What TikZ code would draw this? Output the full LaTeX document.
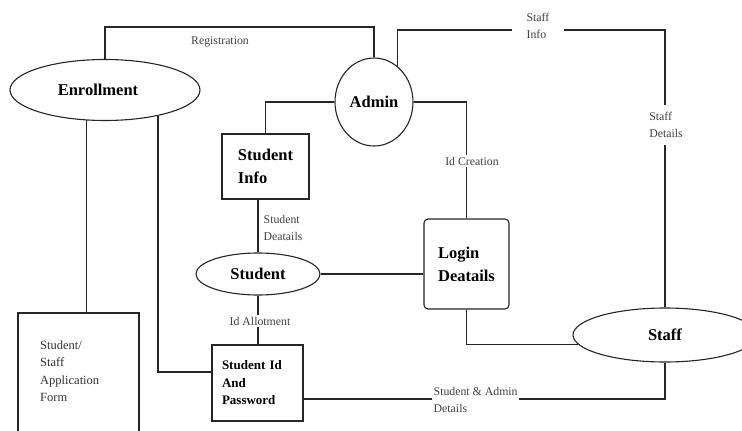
\documentclass[tikz,border=0pt]{standalone}
\usepackage{fontspec}
\setmainfont{Liberation Serif}
\usetikzlibrary{shapes.geometric}
\begin{document}
\begin{tikzpicture}[x=1pt,y=-1pt,
  conn/.style={draw=black!85, line width=1.1pt},
  ell/.style={ellipse, draw=black!85, line width=1.1pt, inner sep=2pt, font=\bfseries\fontsize{16.5}{23}\selectfont},
  boxnode/.style={rectangle, draw=black!85, line width=1.1pt, inner sep=2pt, align=left, font=\bfseries\fontsize{16.5}{23}\selectfont},
  lbl/.style={font=\fontsize{11.8}{16.5}\selectfont, text=black!75, align=left, inner sep=1.5pt},
  lblw/.style={lbl, fill=white}
]
\clip (0,0) rectangle (742,431);
\fill[white] (0,0) rectangle (742,431);

% nodes
\node[ell, minimum width=190pt, minimum height=61pt] (enr) at (105,90) {Enrollment\kern14pt};
\node[ell, minimum width=78pt, minimum height=88pt] (admin) at (374,102) {Admin};
\node[boxnode, minimum width=87pt, minimum height=65pt] (sinfo) at (265.5,166.5) {Student\\Info};
\node[ell, minimum width=124pt, minimum height=42pt] (student) at (258,274) {Student};
\node[boxnode, rounded corners=4pt, minimum width=85pt, minimum height=90pt] (login) at (466.5,264) {Login\\Deatails};
\node[ell, minimum width=184pt, minimum height=54pt] (staff) at (665,335) {Staff};
\node[boxnode, text width=71pt, inner xsep=10pt, minimum width=91pt, minimum height=76pt, font=\bfseries\fontsize{13}{17.5}\selectfont] (sid) at (257.5,383) {Student Id\\And\\Password};
\node[rectangle, draw=black!85, line width=1.1pt, minimum width=121pt, minimum height=140pt] (form) at (78.5,383) {};
\node[anchor=west, align=left, inner sep=0pt, text=black!80, font=\fontsize{12.5}{17.5}\selectfont] (formtext) at (40,371) {Student/\\Staff\\Application\\Form};

\coordinate (tr) at (665,30);

% connectors
\draw[conn] (enr.north) -- ++(0,-32) -| (admin.north);
\draw[conn] (admin.56) |- (tr) -- (staff.north);
\draw[conn] (admin.east) -| (login.north);
\draw[conn] (admin.west) -| (sinfo.north);
\draw[conn] (sinfo.south -| student.north) -- (student.north);
\draw[conn] (student.south) -- (student.south |- sid.north);
\draw[conn] (student.east) -- (student.east -| login.west);
\draw[conn] (login.south) |- (staff.186);
\draw[conn] (staff.south) |- ([yshift=-16pt]sid.east);
\draw[conn] (enr.-26) |- ([yshift=11pt]sid.west);
\draw[conn] (enr.-121) -- (enr.-121 |- form.north);

% labels
\node[lbl] (lreg) at (220,42) {Registration};
\node[lblw, minimum width=52pt] (lsinfo) at (538,26) {Staff\\Info};
\node[lblw, minimum height=40pt] (lsdet) at (666,125) {Staff\\Details};
\node[lblw] (lidc) at (472,161) {Id Creation};
\node[lbl, anchor=west] (lsdeat) at (262,228) {Student\\Deatails};
\node[lblw] (lida) at (260,321) {Id Allotment};
\node[lblw, anchor=west] (lsad) at (432,400) {Student \& Admin\\Details};
\end{tikzpicture}
\end{document}
